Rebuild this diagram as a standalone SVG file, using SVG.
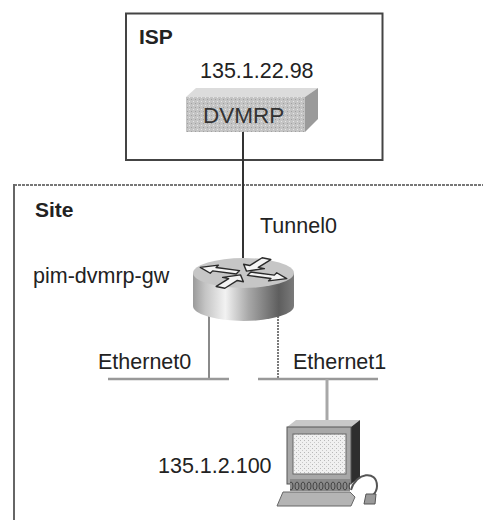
<svg xmlns="http://www.w3.org/2000/svg" width="483" height="520" viewBox="0 0 483 520">
  <style>
    .lbl { font-family: "Liberation Sans", Arial, sans-serif; font-size: 21.5px; fill: #222; }
    .ttl { font-family: "Liberation Sans", Arial, sans-serif; font-size: 21px; font-weight: bold; fill: #222; }
    .wire { fill: none; stroke-linecap: butt; }
    .arw { fill: #f4f4f4; stroke: #2a2a2a; stroke-width: 1.4; vector-effect: non-scaling-stroke; stroke-linejoin: round; }
  </style>
  <defs>
    <linearGradient id="rtrBody" x1="0" y1="0" x2="1" y2="0">
      <stop offset="0" stop-color="#9a9a9a"/>
      <stop offset="0.12" stop-color="#c4c4c4"/>
      <stop offset="0.32" stop-color="#f2f2f2"/>
      <stop offset="0.55" stop-color="#a8a8a8"/>
      <stop offset="0.85" stop-color="#5e5e5e"/>
      <stop offset="1" stop-color="#7a7a7a"/>
    </linearGradient>
    <pattern id="stipple" width="4" height="4" patternUnits="userSpaceOnUse">
      <rect width="4" height="4" fill="#c4c4c4"/>
      <rect x="1" y="1" width="1" height="1" fill="#e6e6e6"/>
      <rect x="3" y="3" width="1" height="1" fill="#a0a0a0"/>
    </pattern>
    <pattern id="screen" width="4" height="4" patternUnits="userSpaceOnUse">
      <rect width="4" height="4" fill="#f0f0f0"/>
      <rect x="0" y="0" width="1" height="1" fill="#b8b8b8"/>
      <rect x="2" y="2" width="1" height="1" fill="#c8c8c8"/>
    </pattern>
    <pattern id="drives" width="6" height="12" patternUnits="userSpaceOnUse">
      <rect width="6" height="12" fill="#8a8a8a"/>
      <ellipse cx="3" cy="6" rx="2" ry="4" fill="none" stroke="#444" stroke-width="1"/>
    </pattern>
  </defs>

  <!-- ISP area -->
  <g id="isp-area">
    <rect x="126" y="13.5" width="256.5" height="146.5" fill="#fff" stroke="#444" stroke-width="2"/>
    <text class="ttl" x="139" y="44">ISP</text>
  </g>

  <!-- Site area: dotted top edge, solid left edge -->
  <g id="site-area">
    <line x1="14" y1="185" x2="483" y2="185" stroke="#777" stroke-width="2" stroke-dasharray="3 1"/>
    <line x1="14" y1="184" x2="14" y2="520" stroke="#666" stroke-width="2"/>
    <text class="ttl" x="35" y="217">Site</text>
  </g>

  <!-- Links -->
  <g id="connectors">
    <line class="wire" x1="243" y1="131" x2="243" y2="262" stroke="#333" stroke-width="2"/>
    <line class="wire" x1="209" y1="316" x2="209" y2="379" stroke="#8a8a8a" stroke-width="2"/>
    <line class="wire" x1="278" y1="316" x2="278" y2="379" stroke="#7a7a7a" stroke-width="2" stroke-dasharray="2 1"/>
    <line class="wire" x1="108" y1="379" x2="229" y2="379" stroke="#999" stroke-width="2.5"/>
    <line class="wire" x1="258" y1="379" x2="378" y2="379" stroke="#999" stroke-width="2.5"/>
    <line class="wire" x1="327" y1="379" x2="327" y2="421" stroke="#a8a8a8" stroke-width="3"/>
  </g>

  <!-- DVMRP router (box) -->
  <g id="dvmrp">
    <text class="lbl" x="200" y="78">135.1.22.98</text>
    <polygon points="186,97 196,88 318,88 305,97" fill="#dcdcdc"/>
    <polygon points="305,97 318,88 318,119 305,132" fill="#9a9a9a"/>
    <rect x="186" y="97" width="119" height="35" fill="url(#stipple)"/>
    <text class="lbl" x="203" y="123" style="font-size:22.5px; fill:#333">DVMRP</text>
  </g>

  <!-- pim-dvmrp-gw router (cylinder) -->
  <g id="pim-dvmrp-gw">
    <path d="M193,273 L193,306 A50.5,15 0 0 0 294,306 L294,273 Z" fill="url(#rtrBody)"/>
    <ellipse cx="243.5" cy="273" rx="50.5" ry="15" fill="#c6c6c6"/>
    <g transform="translate(243.5,273) scale(1,0.36)">
      <!-- two arrows pointing out, two pointing in -->
      <polygon class="arw" transform="rotate(200)" points="6,-5 31,-5 31,-12 46,0 31,12 31,5 6,5"/>
      <polygon class="arw" transform="rotate(20)" points="6,-5 31,-5 31,-12 46,0 31,12 31,5 6,5"/>
      <polygon class="arw" transform="rotate(-60)" points="46,-5 21,-5 21,-12 6,0 21,12 21,5 46,5"/>
      <polygon class="arw" transform="rotate(120)" points="46,-5 21,-5 21,-12 6,0 21,12 21,5 46,5"/>
    </g>
    <text class="lbl" x="33" y="283">pim-dvmrp-gw</text>
  </g>

  <!-- Interface labels -->
  <g id="interfaces">
    <text class="lbl" x="260" y="233">Tunnel0</text>
    <text class="lbl" x="98" y="369">Ethernet0</text>
    <text class="lbl" x="293" y="369">Ethernet1</text>
  </g>

  <!-- Host workstation -->
  <g id="host">
    <polygon points="287,427 296,420 360,420 351,427" fill="#c8c8c8"/>
    <polygon points="351,427 360,420 360,477 351,484" fill="#2e2e2e"/>
    <rect x="287" y="427" width="64" height="57" fill="#a8a8a8" stroke="#555" stroke-width="1"/>
    <rect x="293" y="434" width="53" height="40" fill="url(#screen)" stroke="#666" stroke-width="1"/>
    <rect x="290" y="479" width="60" height="12" fill="url(#drives)"/>
    <polygon points="283,492 350,492 355,497 351,506 277,506" fill="#b4b4b4" stroke="#666" stroke-width="1"/>
    <path d="M351,490 C356,472 377,470 377,486 C377,492 374,494 372,496" fill="none" stroke="#555" stroke-width="2"/>
    <path d="M366,494 L376,494 L375,504 L364,504 Z" fill="#9a9a9a" stroke="#555" stroke-width="1"/>
    <text class="lbl" x="158" y="473">135.1.2.100</text>
  </g>
</svg>
